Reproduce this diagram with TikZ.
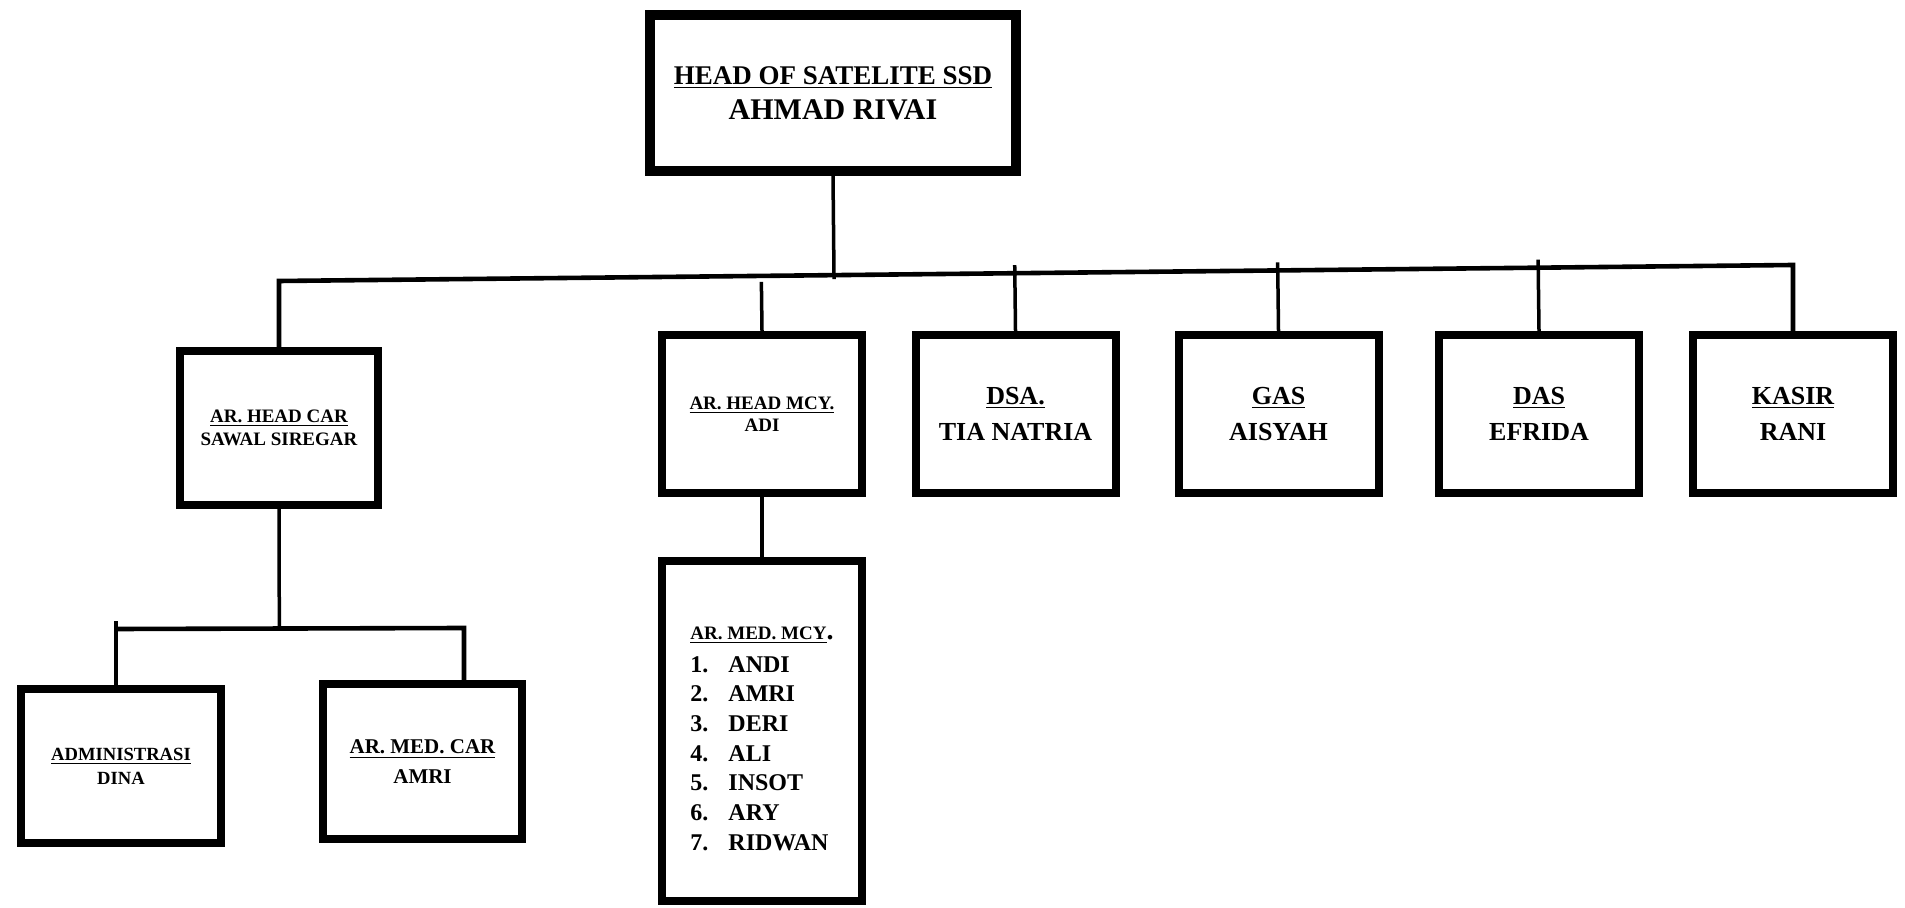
\documentclass[tikz,border=0pt]{standalone}
\usepackage{fontspec}
\setmainfont{Liberation Serif}
\usetikzlibrary{calc}

\tikzset{
  box/.style={draw, line width=4pt, minimum width=100pt, minimum height=79pt, align=center, inner sep=0pt, font=\bfseries},
  unit/.style={box, font=\bfseries\fontsize{13}{18}\selectfont},
  link/.style={line width=1.75pt},
  bus/.style={line width=2.3pt},
}

\begin{document}
\begin{tikzpicture}[x=0.5pt, y=-0.5pt]
		%%%%% START %%%%%
		\useasboundingbox (0,0) rectangle (1905,908);
		
		\node[box, line width=5pt, minimum width=183pt, minimum height=78pt, font=\bfseries\fontsize{13.5}{17.5}\selectfont] (head) at (833,93) {\underline{HEAD OF SATELITE SSD}\\ {\fontsize{15}{17.5}\selectfont AHMAD RIVAI}};
		
		\node[box, minimum width=99pt, minimum height=77pt, font=\bfseries\fontsize{9.5}{11.5}\selectfont] (car) at (279,428) {\underline{AR. HEAD CAR}\\SAWAL SIREGAR};
		\node[box, font=\bfseries\fontsize{9.5}{11}\selectfont] (mcy) at (762,414) {\underline{AR. HEAD MCY.}\\ADI};
		\node[unit] (dsa) at (1015.5,414) {\underline{DSA.}\\TIA NATRIA};
		\node[unit] (gas) at (1278.5,414) {\underline{GAS}\\AISYAH};
		\node[unit] (das) at (1539,414) {\underline{DAS}\\EFRIDA};
		\node[unit] (kasir) at (1793,414) {\underline{KASIR}\\RANI};
		
		\node[box, minimum height=77pt, font=\bfseries\fontsize{9.3}{12}\selectfont] (adm) at (121,766) {\underline{ADMINISTRASI}\\DINA};
		\node[box, minimum width=99.5pt, minimum height=77.5pt, font=\bfseries\fontsize{10.5}{14.6}\selectfont] (medcar) at (422.5,761.5) {\underline{AR. MED. CAR}\\AMRI};
		\node[box, minimum height=170pt, align=left, font=\bfseries\fontsize{12}{14.85}\selectfont] (medmcy) at (762,731) {\rule{0pt}{14pt}{\fontsize{9.5}{14.85}\selectfont\underline{AR. MED. MCY}}{\fontsize{14}{14.85}\selectfont.}\\[1.5pt]
			\makebox[19pt][l]{1.}ANDI\\
			\makebox[19pt][l]{2.}AMRI\\
			\makebox[19pt][l]{3.}DERI\\
			\makebox[19pt][l]{4.}ALI\\
			\makebox[19pt][l]{5.}INSOT\\
			\makebox[19pt][l]{6.}ARY\\
			\makebox[19pt][l]{7.}RIDWAN};
		
		% main line
		\coordinate (busL) at (279,281);
		\coordinate (busR) at (1793,265);
		\draw[bus] (car.north) -- (busL) -- (busR) -- (kasir.north);
		\draw[link, shorten >=-2pt] (head.south) -- ($(busL)!(head.south)!(busR)$);
		\draw[link] (mcy.north) -- ($(busL)!(mcy.north)!(busR)+(0,6)$);
		\draw[link, shorten >=-4pt] (dsa.north) -- ($(busL)!(dsa.north)!(busR)$);
		\draw[link, shorten >=-4pt] (gas.north) -- ($(busL)!(gas.north)!(busR)$);
		\draw[link, shorten >=-4pt] (das.north) -- ($(busL)!(das.north)!(busR)$);
		
		% car line
		\coordinate (subL) at (116,629);
		\coordinate (subR) at (464,628);
		\draw[link] (car.south) -- ($(subL)!(car.south)!(subR)$);
		\draw[bus] (subL) -- (subR) -- (subR |- medcar.north);
		\draw[link, shorten >=-4pt] (subL |- adm.north) -- (subL);
		
		\draw[link] (mcy.south) -- (medmcy.north);
		
		%%%%% END %%%%%
\end{tikzpicture}
\end{document}
